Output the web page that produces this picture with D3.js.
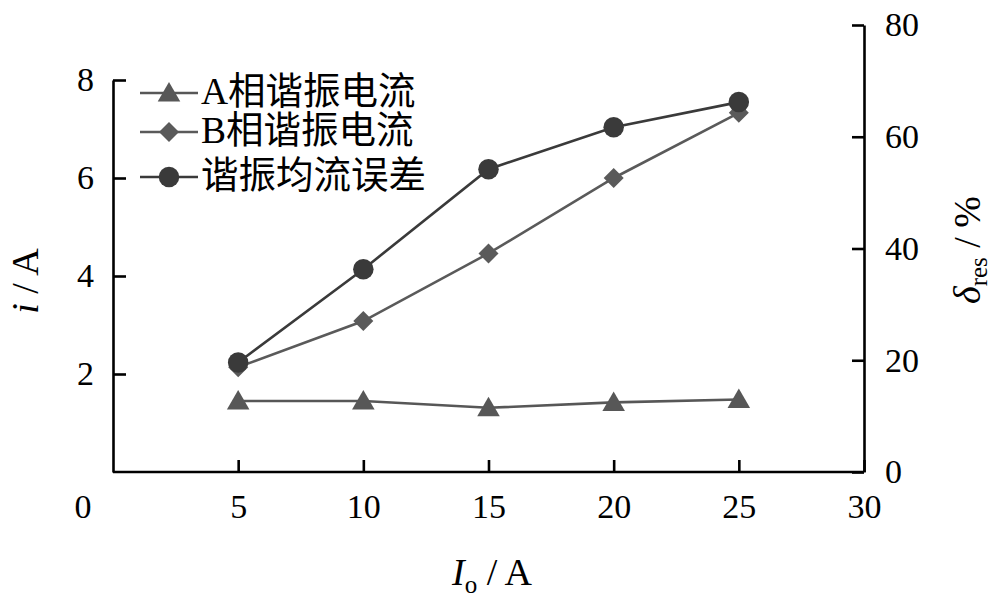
<!DOCTYPE html>
<html>
<head>
<meta charset="utf-8">
<script src="https://cdn.jsdelivr.net/npm/d3@7"></script>
<style>
  html, body { margin: 0; padding: 0; background: #fff; }
  svg { display: block; }
  text { font-family: "Liberation Serif", "Noto Sans CJK SC", serif; fill: #000; }
</style>
</head>
<body>
<svg id="chart" width="1000" height="601"></svg>
<script>
// ---- data ----
const currents = [5, 10, 15, 20, 25];               // I_o / A
const phaseA = [1.45, 1.45, 1.31, 1.42, 1.48];      // A相谐振电流 (i / A)
const phaseB = [2.14, 3.08, 4.46, 6.00, 7.33];      // B相谐振电流 (i / A)
const shareErr = [19.6, 36.3, 54.2, 61.7, 66.2];    // 谐振均流误差 (δres / %)
const xTicks = [5, 10, 15, 20, 25, 30];
const yLeftTicks = [2, 4, 6, 8];
const yRightTicks = [0, 20, 40, 60, 80];
const seriesNames = ["A相谐振电流", "B相谐振电流", "谐振均流误差"];

const svg = d3.select("#chart");
const x = d3.scaleLinear().domain([0, 30]).range([113, 864]);
const yL = d3.scaleLinear().domain([0, 8]).range([472, 80]);
const yR = d3.scaleLinear().domain([0, 80]).range([472, 25]);

const FS = 34;
const TFS = 38;

function styleAxis(g) {
  g.selectAll("path.domain").attr("stroke", "#000").attr("stroke-width", 2.6);
  g.selectAll(".tick line").attr("stroke", "#000").attr("stroke-width", 2.6);
  g.selectAll(".tick text").attr("font-size", FS).attr("font-family", "Liberation Serif").attr("fill", "#000");
}

// x axis
const gx = svg.append("g").attr("transform", `translate(0,${yL(0)})`)
  .call(d3.axisBottom(x).tickValues(xTicks).tickSizeInner(-12).tickSizeOuter(0).tickPadding(22).tickFormat(d3.format("d")));
styleAxis(gx);
gx.select("path.domain").attr("d", `M${x(0)},0H${x(30)}`);
// origin label
svg.append("text").attr("x", x(0) - 30).attr("y", yL(0) + 46)
  .attr("text-anchor", "middle").attr("font-size", FS).text("0");

// left axis
const gl = svg.append("g").attr("transform", `translate(${x(0)},0)`)
  .call(d3.axisLeft(yL).tickValues(yLeftTicks).tickSizeInner(-13).tickSizeOuter(0).tickPadding(19).tickFormat(d3.format("d")));
styleAxis(gl);

// right axis
const gr = svg.append("g").attr("transform", `translate(${x(30)},0)`)
  .call(d3.axisRight(yR).tickValues(yRightTicks).tickSizeInner(-12).tickSizeOuter(0).tickPadding(21).tickFormat(d3.format("d")));
styleAxis(gr);

// series
const lineL = d3.line().x((d, i) => x(currents[i])).y(d => yL(d));
const lineR = d3.line().x((d, i) => x(currents[i])).y(d => yR(d));

const colA = "#575757", colB = "#5a5a5a", colE = "#3a3a3a";
const triangle = d3.symbol().type(d3.symbolTriangle).size(220)();
const diamond = d3.symbol().type(d3.symbolSquare).size(200)();
const circle = d3.symbol().type(d3.symbolCircle).size(330)();

function drawSeries(vals, line, yS, color, shape, rot, dyShift) {
  svg.append("path").datum(vals).attr("d", line)
    .attr("fill", "none").attr("stroke", color).attr("stroke-width", 2.6);
  svg.append("g").selectAll("path").data(vals).join("path")
    .attr("d", shape)
    .attr("transform", (d, i) => `translate(${x(currents[i])},${yS(d) + dyShift}) rotate(${rot})`)
    .attr("fill", color);
}
drawSeries(phaseA, lineL, yL, colA, triangle, 0, 2);
drawSeries(phaseB, lineL, yL, colB, diamond, 45, 0);
drawSeries(shareErr, lineR, yR, colE, circle, 0, 0);

// legend
const legendRows = [93, 132, 177];
const legendShapes = [[triangle, 0, colA], [diamond, 45, colB], [circle, 0, colE]];
seriesNames.forEach((name, i) => {
  const g = svg.append("g").attr("transform", `translate(0,${legendRows[i]})`);
  g.append("line").attr("x1", 140).attr("x2", 198).attr("y1", 0).attr("y2", 0)
    .attr("stroke", legendShapes[i][2]).attr("stroke-width", 2.6);
  g.append("path").attr("d", legendShapes[i][0])
    .attr("transform", `translate(169,${i === 0 ? 2 : 0}) rotate(${legendShapes[i][1]})`)
    .attr("fill", legendShapes[i][2]);
  g.append("text").attr("x", 201).attr("y", 0).attr("dy", "0.3em")
    .attr("font-size", 37.5).text(name);
});

// axis titles
const xt = svg.append("text").attr("x", 492).attr("y", 585).attr("text-anchor", "middle").attr("font-size", TFS);
xt.append("tspan").attr("font-style", "italic").text("I");
xt.append("tspan").attr("font-size", 25).attr("dy", 8).text("o");
xt.append("tspan").attr("dy", -8).text(" / A");

svg.append("text").attr("transform", "translate(38,281) rotate(-90)")
  .attr("text-anchor", "middle").attr("font-size", TFS)
  .call(t => { t.append("tspan").attr("font-style", "italic").text("i"); t.append("tspan").text(" / A"); });

const rt = svg.append("text").attr("transform", "translate(980,250) rotate(-90)")
  .attr("text-anchor", "middle").attr("font-size", TFS);
rt.append("tspan").attr("font-style", "italic").text("δ");
rt.append("tspan").attr("font-size", 25).attr("dy", 7).text("res");
rt.append("tspan").attr("dy", -7).text(" / %");
</script>
</body>
</html>
